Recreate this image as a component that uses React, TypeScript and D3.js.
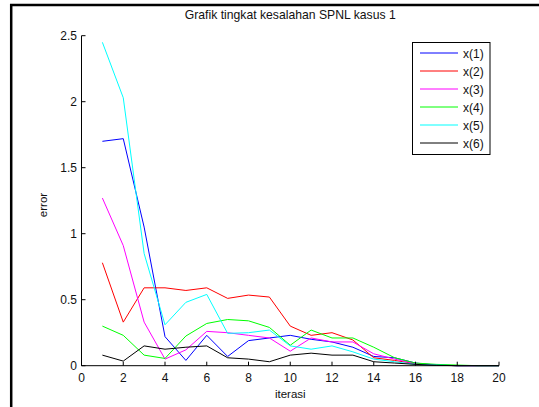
import React from "react";
import * as d3 from "d3";

const iterations = d3.range(1, 21);
const seriesNames = ["x(1)", "x(2)", "x(3)", "x(4)", "x(5)", "x(6)"];
const seriesColors = ["#0000ff", "#ff0000", "#ff00ff", "#00ff00", "#00ffff", "#000000"];

const x1 = [1.70, 1.72, 1.05, 0.22, 0.04, 0.23, 0.07, 0.19, 0.21, 0.23, 0.20, 0.18, 0.14, 0.07, 0.06, 0.02, 0.005, 0, 0, 0];
const x2 = [0.78, 0.33, 0.59, 0.59, 0.57, 0.59, 0.51, 0.535, 0.52, 0.30, 0.23, 0.25, 0.195, 0.06, 0.04, 0.015, 0.005, 0, 0, 0];
const x3 = [1.27, 0.91, 0.33, 0.05, 0.12, 0.26, 0.25, 0.23, 0.21, 0.11, 0.21, 0.18, 0.18, 0.09, 0.05, 0.015, 0.005, 0, 0, 0];
const x4 = [0.30, 0.23, 0.08, 0.055, 0.225, 0.32, 0.35, 0.34, 0.29, 0.155, 0.27, 0.21, 0.21, 0.14, 0.06, 0.02, 0.01, 0.005, 0, 0];
const x5 = [2.45, 2.03, 0.85, 0.31, 0.48, 0.54, 0.245, 0.25, 0.27, 0.15, 0.125, 0.15, 0.105, 0.05, 0.03, 0.01, 0.005, 0, 0, 0];
const x6 = [0.08, 0.035, 0.15, 0.125, 0.14, 0.15, 0.06, 0.05, 0.03, 0.08, 0.095, 0.08, 0.08, 0.03, 0.02, 0.01, 0.003, 0, 0, 0];
const allSeries = [x1, x2, x3, x4, x5, x6];

const xTicks = [0, 2, 4, 6, 8, 10, 12, 14, 16, 18, 20];
const yTicks = [0, 0.5, 1, 1.5, 2, 2.5];
const yTickLabels = ["0", "0.5", "1", "1.5", "2", "2.5"];

const title = "Grafik tingkat kesalahan SPNL kasus 1";
const xLabel = "iterasi";
const yLabel = "error";

export default function App() {
  const W = 539, H = 407;
  const left = 81.5, right = 499, top = 35.7, bottom = 365.7;
  const x = d3.scaleLinear().domain([0, 20]).range([left, right]);
  const y = d3.scaleLinear().domain([0, 2.5]).range([bottom, top]);
  const line = d3.line<number>().x((_, i) => x(iterations[i])).y((d) => y(d));
  const font = "'Liberation Sans', Arial, sans-serif";
  const legX = 412.5, legY = 42.5, legW = 77.5, legH = 112;
  return (
    <svg width={W} height={H} style={{ position: "absolute", left: 0, top: 0, background: "#fff" }} fontFamily={font}>
      <rect x={0} y={0} width={W} height={H} fill="#fff" />
      <line x1={10} y1={5} x2={W} y2={5} stroke="#000" strokeWidth={2.5} />
      <line x1={11.2} y1={4} x2={11.2} y2={H} stroke="#000" strokeWidth={2.5} />
      <text x={(left + right) / 2} y={19} textAnchor="middle" fontSize={12.2} fill="#111">{title}</text>
      {allSeries.map((s, k) => (
        <path key={k} d={line(s) || ""} fill="none" stroke={seriesColors[k]} strokeWidth={1} />
      ))}
      {/* axes */}
      <line x1={left} y1={bottom} x2={right} y2={bottom} stroke="#000" strokeWidth={1} />
      <line x1={left} y1={top} x2={left} y2={bottom} stroke="#000" strokeWidth={1} />
      {xTicks.map((t) => (
        <g key={"xt" + t}>
          <line x1={x(t)} x2={x(t)} y1={bottom} y2={bottom - 4} stroke="#000" />
          <text x={x(t)} y={382} textAnchor="middle" fontSize={12} fill="#111">{t}</text>
        </g>
      ))}
      {yTicks.map((t, i) => (
        <g key={"yt" + t}>
          <line x1={left} x2={left + 4} y1={y(t)} y2={y(t)} stroke="#000" />
          <text x={77} y={y(t) + 4} textAnchor="end" fontSize={12} fill="#111">{yTickLabels[i]}</text>
        </g>
      ))}
      <text x={(left + right) / 2} y={398} textAnchor="middle" fontSize={11.5} fill="#111">{xLabel}</text>
      <text transform={`translate(47,205) rotate(-90)`} textAnchor="middle" fontSize={11.5} fill="#111">{yLabel}</text>
      {/* legend */}
      <rect x={legX} y={legY} width={legW} height={legH} fill="#fff" stroke="#000" strokeWidth={1} />
      {seriesNames.map((n, k) => {
        const yy = legY + 10.5 + k * 18;
        return (
          <g key={n}>
            <line x1={420} x2={458} y1={yy} y2={yy} stroke={seriesColors[k]} strokeWidth={1} />
            <text x={463} y={yy + 4.5} fontSize={12} fill="#111">{n}</text>
          </g>
        );
      })}
    </svg>
  );
}
